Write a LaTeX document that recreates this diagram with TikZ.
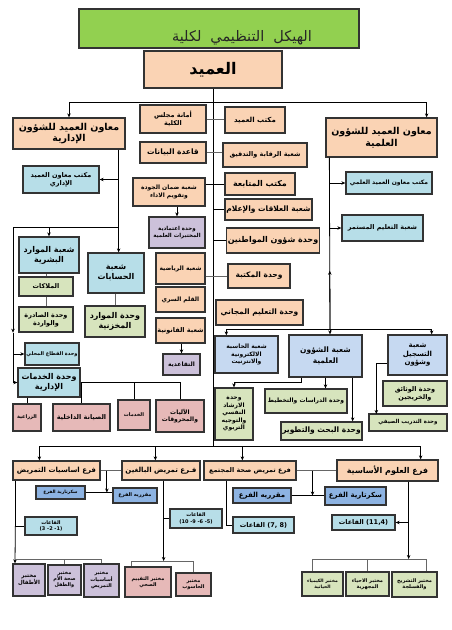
\documentclass[tikz,border=0pt]{standalone}
\usepackage{fontspec}
\newfontfamily\arabicfont[Script=Arabic]{DejaVu Sans}
\newfontfamily\numfont{DejaVu Sans}
\TeXXeTstate=1
\usetikzlibrary{arrows.meta,calc}
\definecolor{peach}{HTML}{FAD3B4}
\definecolor{leaf}{HTML}{D7E4BD}
\definecolor{cyanb}{HTML}{B7DEE8}
\definecolor{skyb}{HTML}{C6D9F1}
\definecolor{lilac}{HTML}{CCC1DA}
\definecolor{rose}{HTML}{E6B9B8}
\definecolor{midb}{HTML}{8DB3E2}
\definecolor{titleg}{HTML}{92D050}
\newcommand\rl[1]{\beginR#1\endR}
\newcommand\nm[1]{\beginL{\numfont#1}\endL}
\tikzset{
  fs/.style={font=\arabicfont\bfseries\linespread{1.25}\fontsize{#1}{#1}\selectfont},
  sz/.style 2 args={minimum width=#1pt,minimum height=#2pt},
  orgbox/.style={draw=black!80,line width=1.3pt,align=center,inner sep=1pt,fs=6},
  peachbox/.style={orgbox,fill=peach},
  leafbox/.style={orgbox,fill=leaf},
  cyanbox/.style={orgbox,fill=cyanb},
  skybox/.style={orgbox,fill=skyb},
  lilacbox/.style={orgbox,fill=lilac},
  rosebox/.style={orgbox,fill=rose},
  midbox/.style={orgbox,fill=midb},
  line/.style={draw=black,line width=0.8pt},
  gline/.style={draw=gray!80!black,line width=0.8pt},
  arr/.style={line,-{Stealth[length=4pt,width=3.5pt]}}
}
\begin{document}
\begin{tikzpicture}[x=1pt,y=-1pt]
  \useasboundingbox[fill=white] (0,0) rectangle (451,630);

  % Title and dean
  \node[orgbox,fill=titleg,sz={280}{39}] (title) at (219,28.5) {};
  \node[font=\arabicfont\fontsize{14.5}{14.5}\selectfont,text=black!85] (titletext) at (242,38) {\spaceskip=9pt\relax\rl{الهيكل التنظيمي لكلية}};
  \node[peachbox,sz={138}{37},fs=16] (dean) at (213,69.5) {\rl{العميد}};

  % Vice deans
  \node[peachbox,sz={112}{31},fs=9.5] (lvp) at (69,133.5) {\rl{معاون العميد للشؤون}\\\rl{الإدارية}};
  \node[peachbox,sz={111}{39},fs=9.5] (rvp) at (381.5,137.5) {\rl{معاون العميد للشؤون}\\\rl{العلمية}};

  % Middle column, left of spine
  \node[peachbox,sz={66}{28},fs=6.5] (amana) at (173,119) {\rl{أمانة مجلس}\\\rl{الكلية}};
  \node[peachbox,sz={66}{21},fs=7.5] (database) at (173,152.5) {\rl{قاعدة البيانات}};
  \node[peachbox,sz={72}{28},fs=6] (quality) at (169,192) {\rl{شعبة ضمان الجودة}\\\rl{وتقويم الاداء}};
  \node[lilacbox,sz={56}{31},fs=5.5] (labacc) at (177,232.5) {\rl{وحدة اعتمادية}\\\rl{المختبرات العلمية}};
  \node[peachbox,sz={49}{31},fs=6] (sport) at (180.5,268.5) {\rl{شعبة الرياضية}};
  \node[peachbox,sz={49}{25},fs=6] (secret) at (180.5,299.5) {\rl{القلم السري}};
  \node[peachbox,sz={49}{25},fs=6.5] (legal) at (180.5,330.5) {\rl{شعبة القانونية}};
  \node[lilacbox,sz={37}{21},fs=6] (retire) at (181.5,364.5) {\rl{التقاعدية}};

  % Middle column, right of spine
  \node[peachbox,sz={60}{26},fs=7] (deanoffice) at (255,120) {\rl{مكتب العميد}};
  \node[peachbox,sz={84}{24},fs=6.5] (audit) at (265,155) {\rl{شعبة الرقابة والتدقيق}};
  \node[peachbox,sz={70}{22},fs=8] (followup) at (260,184) {\rl{مكتب المتابعة}};
  \node[peachbox,sz={87}{21},fs=7.5] (relations) at (268.5,209.5) {\rl{شعبة العلاقات والإعلام}};
  \node[peachbox,sz={88}{25},fs=8] (citizens) at (273,240.5) {\rl{وحدة شؤون المواطنين}};
  \node[peachbox,sz={62}{24},fs=7.5] (library) at (259,276) {\rl{وحدة المكتبة}};
  \node[peachbox,sz={87}{25},fs=7.5] (freeedu) at (259.5,312.5) {\rl{وحدة التعليم المجاني}};

  % Administrative side
  \node[cyanbox,sz={76}{27},fs=6.5] (ladmoff) at (61,179.5) {\rl{مكتب معاون العميد}\\\rl{الإداري}};
  \node[cyanbox,sz={60}{36},fs=8] (hr) at (49,255) {\rl{شعبة الموارد}\\\rl{البشرية}};
  \node[leafbox,sz={54}{19},fs=6.5] (cadres) at (46,286.5) {\rl{الملاكات}};
  \node[leafbox,sz={54}{25},fs=6.5] (mail) at (46,319.5) {\rl{وحدة الصادرة}\\\rl{والواردة}};
  \node[cyanbox,sz={56}{40},fs=8] (accounts) at (116,273) {\rl{شعبة}\\\rl{الحسابات}};
  \node[leafbox,sz={60}{31},fs=8] (stores) at (115,321.5) {\rl{وحدة الموارد}\\\rl{المخزنية}};
  \node[cyanbox,sz={54}{22},fs=5] (local) at (52,354) {\rl{وحدة القطاع المحلي}};
  \node[cyanbox,sz={62}{29},fs=8] (services) at (49,382.5) {\rl{وحدة الخدمات}\\\rl{الإدارية}};
  \node[rosebox,sz={28}{27},fs=5] (agri) at (27,417.5) {\rl{الزراعية}};
  \node[rosebox,sz={57}{27},fs=6.5] (maint) at (81.5,417.5) {\rl{الصيانة الداخلية}};
  \node[rosebox,sz={32}{30},fs=5] (servs) at (134,415) {\rl{الخدمات}};
  \node[rosebox,sz={48}{32},fs=6] (vehicles) at (180,416) {\rl{الآليات}\\\rl{والمحروقات}};

  % Scientific side
  \node[cyanbox,sz={86}{22},fs=6] (rsciof) at (389,183) {\rl{مكتب معاون العميد العلمي}};
  \node[cyanbox,sz={81}{26},fs=6.5] (contedu) at (382.5,228) {\rl{شعبة التعليم المستمر}};
  \node[skybox,sz={63}{37},fs=6] (computer) at (246.5,354.5) {\rl{شعبة الحاسبة}\\\rl{الالكترونية}\\\rl{والانترنيت}};
  \node[skybox,sz={73}{42},fs=7.5] (sciaff) at (325.5,356) {\rl{شعبة الشؤون}\\[2pt]\rl{العلمية}};
  \node[skybox,sz={59}{40},fs=7] (regis) at (417.5,355) {\rl{شعبة}\\\rl{التسجيل}\\\rl{وشؤون}};
  \node[leafbox,sz={38}{52},fs=6] (guidance) at (234,414) {\rl{وحدة}\\\rl{الارشاد}\\\rl{النفسي}\\\rl{والتوجيه}\\\rl{التربوي}};
  \node[leafbox,sz={82}{24},fs=6] (studies) at (306,401) {\rl{وحدة الدراسات والتخطيط}};
  \node[leafbox,sz={81}{18},fs=7.5] (research) at (321.5,431) {\rl{وحدة البحث والتطوير}};
  \node[leafbox,sz={64}{25},fs=6.5] (docs) at (415,393.5) {\rl{وحدة الوثائق}\\\rl{والخريجين}};
  \node[leafbox,sz={78}{17},fs=5.5] (summer) at (408,422.5) {\rl{وحدة التدريب الصيفي}};

  % Branches
  \node[peachbox,sz={87}{19},fs=7] (bfund) at (56.5,470.5) {\rl{فرع اساسيات التمريض}};
  \node[peachbox,sz={78}{19},fs=7] (badult) at (161,470.5) {\rl{فـرع تمريض البالغين}};
  \node[peachbox,sz={92}{19},fs=6.5] (bcomm) at (250,470.5) {\rl{فرع تمريض صحة المجتمع}};
  \node[peachbox,sz={101}{21},fs=8] (bbasic) at (387.5,470.5) {\rl{فرع العلوم الأساسية}};
  \node[midbox,sz={49}{13},fs=4.5] (sec1) at (60.5,492.5) {\rl{سكرتارية الفرع}};
  \node[midbox,sz={44}{15},fs=5] (rap1) at (135,495.5) {\rl{مقرريه الفرع}};
  \node[midbox,sz={58}{15},fs=7] (rap2) at (262,495.5) {\rl{مقرريه الفرع}};
  \node[midbox,sz={61}{18},fs=7] (sec2) at (355.5,496) {\rl{سكرتارية الفرع}};
  \node[cyanbox,sz={52}{18},fs=5] (halls1) at (51,526) {\rl{القاعات}\\\nm{(3 -2 -1)}};
  \node[cyanbox,sz={52}{19},fs=5] (halls2) at (196,518.5) {\rl{القاعات}\\\nm{(10 -9 -6 -5)}};
  \node[cyanbox,sz={61}{16},fs=6.5] (halls3) at (263.5,525) {\rl{\nm{(7, 8)} القاعات}};
  \node[cyanbox,sz={63}{15},fs=6.5] (halls4) at (363.5,522.5) {\rl{\nm{(11,4)} القاعات}};

  % Laboratories
  \node[lilacbox,sz={32}{32},fs=5.5] (labkid) at (29,580) {\rl{مختبر}\\\rl{الأطفال}};
  \node[lilacbox,sz={33}{30},fs=5] (labmom) at (64.5,580) {\rl{مختبر}\\\rl{صحة الأم}\\\rl{والطفل}};
  \node[lilacbox,sz={35}{33},fs=5] (labfund) at (101.5,580.5) {\rl{مختبر}\\\rl{أساسيات}\\\rl{التمريض}};
  \node[rosebox,sz={46}{30},fs=5] (labeval) at (148,582) {\rl{مختبر التقييم}\\\rl{الصحي}};
  \node[rosebox,sz={35}{23},fs=5] (labcomp) at (193.5,584.5) {\rl{مختبر}\\\rl{الحاسوب}};
  \node[leafbox,sz={41}{24},fs=4.5] (labchem) at (322.5,584) {\rl{مختبر الكيمياء}\\\rl{الحياتية}};
  \node[leafbox,sz={43}{24},fs=5] (labmicro) at (367.5,584) {\rl{مختبر الاحياء}\\\rl{المجهرية}};
  \node[leafbox,sz={45}{25},fs=5] (labanat) at (414.5,584.5) {\rl{مختبر التشريح}\\\rl{والفسلجة}};

  % Bus points
  \coordinate (tb) at (213,102);
  \coordinate (lb) at (13,227);
  \coordinate (rb) at (330,329);
  \coordinate (bb) at (213,446);
  \coordinate (lbus) at (15,559);
  \coordinate (mbus) at (132,561);
  \coordinate (rbus) at (312,559);
  \coordinate (ra) at ([xshift=-11pt]rvp.north east);
  \coordinate (lv) at ([xshift=-7pt]lvp.south east);
  \coordinate (rv) at ([xshift=4pt]rvp.south west);
  \coordinate (cd) at ([xshift=12pt]computer.north west);
  \coordinate (rgd) at ([xshift=-16pt]regis.north east);
  \coordinate (d1) at ([xshift=27pt]bfund.north west);
  \coordinate (d2) at ([xshift=34pt]badult.north west);
  \coordinate (d3) at ([xshift=39pt]bcomm.north west);
  \coordinate (d4) at ([xshift=-18pt]bbasic.north east);

  % Top level
  \draw[line] (dean.south) -- (bb);
  \draw[line] (lvp.north |- tb) -- (ra |- tb);
  \draw[arr] (lvp.north |- tb) -- (lvp.north);
  \draw[arr] (ra |- tb) -- (ra);

  % Spine connectors
  \draw[gline] (amana.east) -- (amana.east -| deanoffice.west);
  \draw[gline] (database.east) -- (database.east -| audit.west);
  \draw[line] (followup.west -| quality.east) -- (followup.west);
  \draw[line] (relations.west -| dean.south) -- (relations.west);
  \draw[line] (citizens.west -| dean.south) -- (citizens.west);
  \draw[gline] (library.west -| sport.east) -- (library.west);
  \draw[arr] (labacc.north |- quality.south) -- (labacc.north);
  \draw[arr] (retire.north |- legal.south) -- (retire.north);

  % Administrative side
  \draw[line] (lv) -- (lv |- lb);
  \draw[arr] (lv |- lb) -- (lv |- accounts.north);
  \draw[arr] (lv |- ladmoff.east) -- (ladmoff.east);
  \draw[line] (lb) -- (lv |- lb);
  \draw[arr] (hr.north |- lb) -- (hr.north);
  \draw[arr] (lb) -- (lb |- mail.south);
  \draw[line] (lb |- mail.south) -- (lb |- services.west);
  \draw[arr] (lb |- local.west) -- (local.west);
  \draw[arr] (lb |- services.west) -- (services.west);
  \draw[gline] (cadres.north |- hr.south) -- (cadres.north);
  \draw[gline] (cadres.south) -- (mail.north);
  \draw[gline] (stores.north |- accounts.south) -- (stores.north);
  \draw[line] (services.east) -- (services.east -| vehicles.north) -- (vehicles.north);
  \draw[line] (servs.north |- services.east) -- (servs.north);
  \draw[line] (maint.north |- services.east) -- (maint.north);
  \draw[line] (agri.north |- services.south) -- (agri.north);

  % Scientific side
  \draw[line] (rv) -- (rb);
  \draw[arr] (rb) -- ($(rb)!0.34!(rv)$);
  \draw[arr] (rv |- rsciof.west) -- (rsciof.west);
  \draw[arr] (rv |- contedu.west) -- (contedu.west);
  \draw[line] (cd |- rb) -- (rgd |- rb);
  \draw[arr] (cd |- rb) -- (cd);
  \draw[arr] (rb) -- (rb |- sciaff.north);
  \draw[arr] (rgd |- rb) -- (rgd);
  \draw[arr] ([xshift=13pt]sciaff.south west) -- ++(0,5) -| (guidance.north);
  \draw[arr] (sciaff.south) -- (sciaff.south |- studies.north);
  \draw[arr] ([xshift=-10pt]sciaff.south east) -- ([xshift=-10pt]sciaff.south east |- research.north);
  \draw[arr] ([yshift=-8pt]regis.west) -- ++(-11,0) -- ++(0,51);

  % Branches
  \draw[line] (d1 |- bb) -- (d4 |- bb);
  \foreach \d in {d1,d2,d3,d4} \draw[arr] (\d |- bb) -- (\d);
  \draw[gline] (bfund.east) -- (badult.west);
  \draw[gline] (bcomm.east) -- (bbasic.west);
  \coordinate (k1) at ($(bfund.east)!0.3!(badult.west)$);
  \coordinate (k2) at ($(bcomm.east)!0.4!(bbasic.west)$);
  \draw[line] (sec1.east) -- (sec1.east -| rap1.west);
  \draw[line] (rap2.east) -- (rap2.east -| sec2.west);
  \draw[arr] (k1) -- (k1 |- sec1.east);
  \draw[arr] (k2) -- (k2 |- rap2.east);

  % Halls and laboratories
  \draw[line] ([xshift=3pt]bfund.south west) -- ([xshift=3pt]bfund.south west |- halls1.west) -- (halls1.west);
  \draw[arr] ([xshift=3pt]bfund.south west |- halls1.west) -- (lbus |- labkid.north);
  \draw[gline] (lbus) -| (labfund.north);
  \draw[gline] (labmom.north |- lbus) -- (labmom.north);
  \draw[line] ([xshift=-37pt]badult.south east) |- (halls2.west);
  \draw[arr] ([xshift=-37pt]badult.south east |- halls2.west) -- ([xshift=-37pt]badult.south east |- mbus);
  \draw[gline] ([xshift=7pt]labeval.north west) |- (mbus -| labcomp.north) -- (labcomp.north);
  \draw[line] ([xshift=23pt]bcomm.south west) |- (halls3.west);
  \draw[line] ([xshift=-30pt]bbasic.south east) -- ([xshift=-30pt]bbasic.south east |- halls4.east);
  \draw[arr] ([xshift=-30pt]bbasic.south east |- halls4.east) -- (halls4.east);
  \draw[arr] ([xshift=-30pt]bbasic.south east |- halls4.east) -- ([xshift=-30pt]bbasic.south east |- rbus);
  \draw[gline] ([xshift=-10pt]labchem.north) |- ([xshift=12pt]labanat.north |- rbus) -- ([xshift=12pt]labanat.north);
  \draw[gline] (labmicro.north |- rbus) -- (labmicro.north);

\end{tikzpicture}
\end{document}
